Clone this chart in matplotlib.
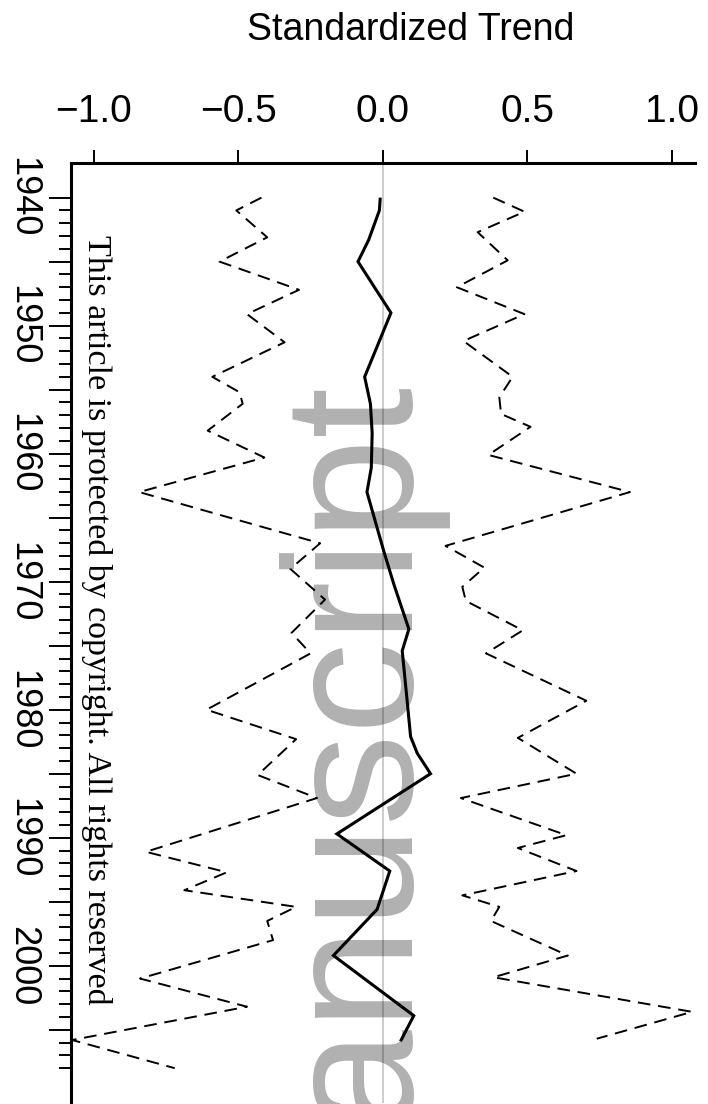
import matplotlib
matplotlib.use("Agg")
import matplotlib.pyplot as plt
from matplotlib.ticker import FixedLocator

# ---------------- data ----------------
years_mid = [1940.0, 1941.0, 1943.3, 1945.0, 1949.0, 1954.0, 1956.1, 1958.4, 1961.1,
             1963.0, 1967.6, 1970.2, 1973.7, 1975.4, 1979.3, 1982.1, 1983.4, 1985.0,
             1989.7, 1992.6, 1995.6, 1999.2, 2003.9, 2005.9]
trend_mid = [-0.009, -0.012, -0.049, -0.086, 0.028, -0.063, -0.043, -0.037, -0.040,
             -0.055, 0.003, 0.038, 0.090, 0.067, 0.084, 0.096, 0.119, 0.165,
             -0.159, 0.024, -0.020, -0.171, 0.107, 0.061]

years_hi = [1940.0, 1941.1, 1942.7, 1944.9, 1947.0, 1949.1, 1951.2, 1954.0, 1955.6,
            1956.9, 1957.9, 1960.1, 1963.0, 1967.2, 1968.9, 1970.4, 1971.5, 1973.8,
            1975.6, 1979.3, 1982.2, 1985.0, 1986.9, 1989.8, 1990.8, 1992.6, 1994.5,
            1995.4, 1996.5, 1999.2, 2000.9, 2003.6, 2005.7]
trend_hi = [0.382, 0.490, 0.328, 0.432, 0.256, 0.490, 0.279, 0.449, 0.403,
            0.409, 0.511, 0.365, 0.855, 0.217, 0.351, 0.275, 0.287, 0.484,
            0.357, 0.704, 0.467, 0.670, 0.270, 0.635, 0.467, 0.670, 0.275,
            0.403, 0.374, 0.640, 0.383, 1.070, 0.740]

years_lo = [1940.0, 1941.0, 1943.1, 1945.0, 1947.2, 1949.1, 1951.3, 1954.0, 1955.2,
            1956.1, 1958.2, 1960.3, 1963.0, 1967.0, 1969.0, 1971.4, 1974.0, 1975.6,
            1980.0, 1982.3, 1985.1, 1986.9, 1991.1, 1992.7, 1994.1, 1995.4, 1996.5,
            1998.0, 2001.0, 2003.2, 2005.8, 2008.0]
trend_lo = [-0.420, -0.507, -0.400, -0.565, -0.290, -0.470, -0.340, -0.590, -0.496,
            -0.485, -0.606, -0.410, -0.843, -0.217, -0.320, -0.200, -0.316, -0.250,
            -0.610, -0.300, -0.433, -0.228, -0.820, -0.540, -0.687, -0.300, -0.400,
            -0.380, -0.840, -0.470, -1.075, -0.720]

x_ticks = [-1.0, -0.5, 0.0, 0.5, 1.0]
x_tick_labels = ["\u22121.0", "\u22120.5", "0.0", "0.5", "1.0"]
year_major = list(range(1940, 2006, 5))
year_minor = list(range(1940, 2009, 1))
year_labels = [str(y) if y % 10 == 0 else "" for y in year_major]

# ---------------- figure ----------------
W, H = 708, 1104
fig = plt.figure(figsize=(W / 100, H / 100), dpi=100)


def fx(px):
    return px / W


def fy(py):
    return 1 - py / H


left_px, right_px, top_px, bot_px = 70.7, 695.0, 162.8, 1103.0
ax = fig.add_axes([fx(left_px), fy(bot_px), (right_px - left_px) / W, (bot_px - top_px) / H])
ax.set_xlim(-1.08, 1.08)
ax.set_ylim(2010.72, 1937.28)
ax.patch.set_alpha(0)

ax.axvline(0, color="#BEBEBE", lw=1.1, zorder=1)
dash = (0, (6.5, 4.0))
ax.plot(trend_lo, years_lo, color="black", lw=1.4, ls=dash, zorder=3)
ax.plot(trend_hi, years_hi, color="black", lw=1.4, ls=dash, zorder=3)
ax.plot(trend_mid, years_mid, color="black", lw=2.2, zorder=4,
        solid_joinstyle="miter", solid_capstyle="butt")

for s in ("right", "bottom"):
    ax.spines[s].set_visible(False)
for s in ("top", "left"):
    ax.spines[s].set_linewidth(2.2)

ax.xaxis.tick_top()
ax.set_xticks(x_ticks)
ax.set_xticklabels(x_tick_labels, family="Liberation Sans", fontsize=28)
ax.tick_params(axis="x", which="major", length=9.5, width=1.4, pad=14)

ax.yaxis.set_major_locator(FixedLocator(year_major))
ax.yaxis.set_minor_locator(FixedLocator(year_minor))
ax.set_yticklabels(year_labels, family="Liberation Sans", fontsize=26, rotation=-90,
                   va="center", ha="center")
ax.tick_params(axis="y", which="major", length=16, width=1.4, pad=18.3)
ax.tick_params(axis="y", which="minor", length=9, width=1.4)

ax.set_xlabel("Standardized Trend", family="Liberation Sans", fontsize=27)
ax.xaxis.set_label_position("top")
ax.xaxis.set_label_coords((411 - left_px) / (right_px - left_px), (top_px - 30) / (bot_px - top_px) + 1)
ax.xaxis.label.set_va("center")

# watermarks
fig.text(fx(413), fy(387), "Author Manuscript", rotation=90, rotation_mode="anchor",
         ha="right", va="baseline", fontsize=132, color="black", alpha=0.31,
         family="Liberation Sans", zorder=2)
fig.text(fx(96), fy(620), "This article is protected by copyright. All rights reserved",
         rotation=-90, ha="center", va="center", fontsize=24.5, family="Liberation Serif",
         color="black")

fig.savefig("out.png", dpi=100)
